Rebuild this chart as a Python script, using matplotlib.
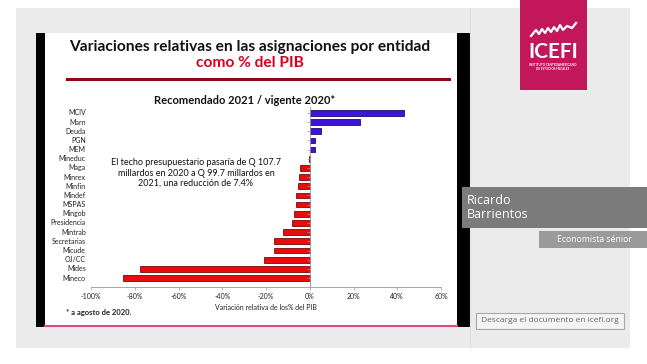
import matplotlib
matplotlib.use("Agg")
from matplotlib import pyplot as plt
from matplotlib.patches import Rectangle
from matplotlib.lines import Line2D
import matplotlib.transforms as mtransforms

# datos (de abajo hacia arriba)
entidades = ["Mineco", "Mides", "OJ/CC", "Micude", "Secretarias", "Mintrab",
             "Presidencia", "Mingob", "MSPAS", "Mindef", "Minfin", "Minrex",
             "Maga", "Mineduc", "MEM", "PGN", "Deuda", "Marn", "MCIV"]
variacion = [-85.6, -77.4, -21.0, -16.2, -16.2, -12.2, -7.9, -7.1, -6.1, -6.1,
             -5.2, -4.9, -4.3, -0.5, 2.3, 2.6, 5.3, 23.0, 43.1]
xticks = [-100, -80, -60, -40, -20, 0, 20, 40, 60]

W, H = 647, 364
fig = plt.figure(figsize=(W / 100, H / 100), dpi=100)
fig.patch.set_facecolor("white")

def caja(x0, y0, x1, y1, z=-5, **kw):
    # rectangulo en pixeles (origen arriba a la izquierda)
    fig.patches.append(Rectangle((x0 / W, 1 - y1 / H), (x1 - x0) / W, (y1 - y0) / H,
                                 transform=fig.transFigure, figure=fig, zorder=z, **kw))

def linea(xs, ys, z=-4, **kw):
    fig.lines.append(Line2D([x / W for x in xs], [1 - y / H for y in ys],
                            transform=fig.transFigure, zorder=z, **kw))

def texto(x, y, s, **kw):
    fig.text(x / W, 1 - y / H, s, **kw)

# fondo gris de la pantalla
caja(16, 8, 630, 348, facecolor="#ebebeb", edgecolor="none")
linea([470, 470], [8, 348], color="#dedede", lw=0.8)
# diapositiva
caja(36, 33, 471, 327, facecolor="black", edgecolor="none")
caja(45, 33, 457, 327, facecolor="white", edgecolor="none")
linea([45, 457], [326, 326], color="#e0458c", lw=1.5)

texto(250, 47, "Variaciones relativas en las asignaciones por entidad", ha="center",
      va="center", fontsize=11.2, fontweight="bold", family="Lato", color="#111111")
texto(250, 63, "como % del PIB", ha="center", va="center", fontsize=11.2,
      fontweight="bold", family="Lato", color="#d8001f")
linea([67, 449], [79, 79], color="#8e0a12", lw=2.2)
texto(245, 101, "Recomendado 2021 / vigente 2020*", ha="center", va="center",
      fontsize=8, fontweight="bold", family="Lato", color="#111111")

# grafico de barras
ax = fig.add_axes([91 / W, 1 - 287 / H, 350 / W, 180 / H])
colores = ["#3d14d8" if v > 0 else "#e80c0c" for v in variacion]
bordes = ["#1e0a7a" if v > 0 else "#7a0a0a" for v in variacion]
pos = range(len(entidades))
ax.barh(pos, variacion, height=0.62, color=colores, edgecolor=bordes, linewidth=0.6)
ax.set_xlim(-100, 60)
ax.set_ylim(-0.98, len(entidades) - 1 + 0.65)
ax.set_xticks(xticks)
ax.set_xticklabels([f"{t}%" for t in xticks], fontsize=5, family="Lato", color="#222222")
ax.spines["left"].set_position(("data", 0))
for s in ["top", "right"]:
    ax.spines[s].set_visible(False)
ax.spines["left"].set_color("#999999")
ax.spines["bottom"].set_color("#999999")
ax.spines["left"].set_linewidth(0.6)
ax.spines["bottom"].set_linewidth(0.6)
ax.set_yticks(list(pos))
ax.set_yticklabels([])
ax.tick_params(axis="y", length=2, width=0.5, color="#999999")
ax.tick_params(axis="x", length=2.5, width=0.5, color="#999999", pad=2)
trans = mtransforms.blended_transform_factory(ax.transAxes, ax.transData)
for i, nombre in enumerate(entidades):
    ax.text(-0.015, i, nombre, transform=trans, ha="right", va="center", fontsize=5,
            family="Lato", color="#222222")
ax.set_xlabel("Variación relativa de los% del PIB", fontsize=5, family="Lato",
              color="#222222", labelpad=3)
ax.patch.set_alpha(0)

texto(196, 173, "El techo presupuestario pasaría de Q 107.7\nmillardos en 2020 a Q 99.7 millardos en\n2021, una reducción de 7.4%",
      ha="center", va="center", fontsize=6.5, family="Lato", color="#111111", linespacing=1.2)
texto(66, 313, "* a agosto de 2020.", ha="left", va="center", fontsize=5.5,
      fontweight="bold", family="Lato", color="#222222")

# logo ICEFI
caja(520, 0, 587, 90, z=1, facecolor="#c2185b", edgecolor="none")
zx = [531, 536, 539, 542, 545, 548, 551, 554, 557, 560, 563, 567, 572, 576]
zy = [36, 30, 34, 29, 33, 28, 32, 27, 31, 25, 30, 26, 28, 23]
linea(zx, zy, z=2, color="white", lw=1.6)
texto(553, 52, "ICEFI", ha="center", va="center", fontsize=15, fontweight="bold",
      family="Lato", color="white")
texto(553, 67, "INSTITUTO CENTROAMERICANO\nDE ESTUDIOS FISCALES", ha="center", va="center",
      fontsize=2.2, fontweight="bold", family="Lato", color="white", linespacing=1.2)

# presentador
caja(462, 187, 647, 228, z=1, facecolor="#7b7b7b", edgecolor="none")
texto(467, 207, "Ricardo\nBarrientos", ha="left", va="center", fontsize=9,
      family="Open Sans", color="white", linespacing=1.1)
caja(539, 231, 647, 248, z=1, facecolor="#9a9a9a", edgecolor="none")
texto(594, 240, "Economista sénior", ha="center", va="center", fontsize=6.2,
      family="Open Sans", color="white")
caja(476, 313, 624, 329, z=1, facecolor="#f4f4f4", edgecolor="#a8a8a8", lw=0.8)
texto(550, 321, "Descarga el documento en icefi.org", ha="center", va="center",
      fontsize=6, family="Open Sans", color="#666666")

fig.savefig("out.png", dpi=100)
